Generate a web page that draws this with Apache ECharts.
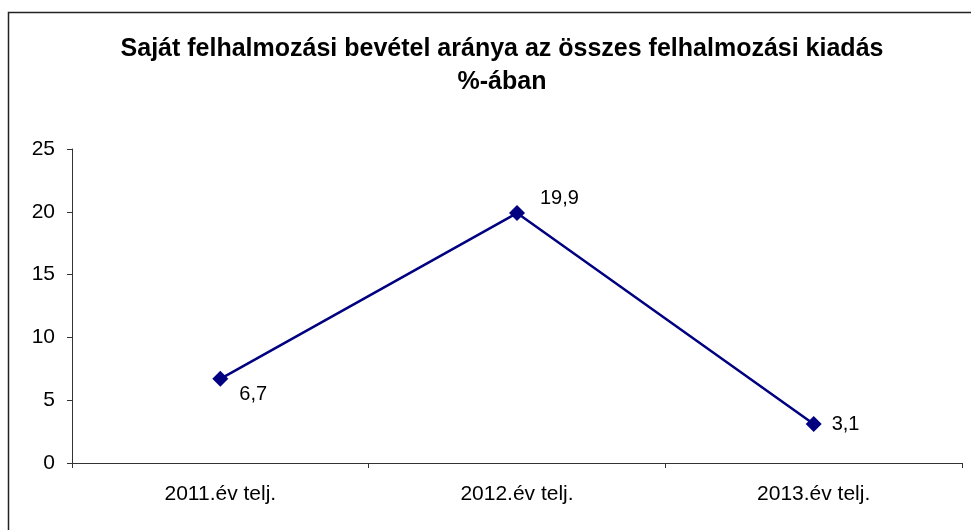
<!DOCTYPE html>
<html>
<head>
<meta charset="utf-8">
<script src="https://cdn.jsdelivr.net/npm/echarts@6/dist/echarts.min.js"></script>
<style>
  html, body { margin: 0; padding: 0; background: #fff; }
  #chart { width: 971px; height: 530px; }
</style>
</head>
<body>
<div id="chart"></div>
<script>
var categories = ['2011.év telj.', '2012.év telj.', '2013.év telj.'];
var values = [6.7, 19.9, 3.1];
var titleText = 'Saját felhalmozási bevétel aránya az összes felhalmozási kiadás\n%-ában';

var labelOffsets = [[6, 16], [10, -15], [5, 0]];

var chart = echarts.init(document.getElementById('chart'));

var seriesData = values.map(function (v, i) {
  return {
    value: v,
    label: { offset: labelOffsets[i] }
  };
});

chart.setOption({
  animation: false,
  backgroundColor: '#fff',
  textStyle: { fontFamily: 'Liberation Sans, Arial, sans-serif' },
  graphic: [{
    type: 'rect',
    shape: { x: 8.5, y: 12.5, width: 1000, height: 1000 },
    style: { fill: 'none', stroke: '#222', lineWidth: 1.5 },
    silent: true
  }],
  title: {
    text: titleText,
    left: 497,
    textAlign: 'center',
    top: 28,
    textStyle: {
      fontFamily: 'Liberation Sans, Arial, sans-serif',
      fontSize: 25,
      fontWeight: 'bold',
      color: '#000',
      lineHeight: 33
    }
  },
  grid: { left: 72, right: 9, top: 149, bottom: 67 },
  xAxis: {
    type: 'category',
    data: categories,
    boundaryGap: true,
    axisLine: { lineStyle: { color: '#333', width: 1 } },
    axisTick: { show: true, alignWithLabel: false, length: 5, lineStyle: { color: '#333' } },
    axisLabel: { color: '#000', fontSize: 21, margin: 21 },
    splitLine: { show: false }
  },
  yAxis: {
    type: 'value',
    min: 0,
    max: 25,
    interval: 5,
    axisLine: { show: true, lineStyle: { color: '#333', width: 1 } },
    axisTick: { show: true, length: 5, lineStyle: { color: '#333' } },
    axisLabel: { color: '#000', fontSize: 21, margin: 17 },
    splitLine: { show: false }
  },
  series: [{
    type: 'line',
    data: seriesData,
    symbol: 'diamond',
    symbolSize: 16,
    itemStyle: { color: '#000080' },
    lineStyle: { color: '#000080', width: 2.5 },
    label: {
      show: true,
      position: 'right',
      distance: 5,
      color: '#000',
      fontSize: 20,
      formatter: function (p) { return String(p.value).replace('.', ','); }
    }
  }]
});
</script>
</body>
</html>
